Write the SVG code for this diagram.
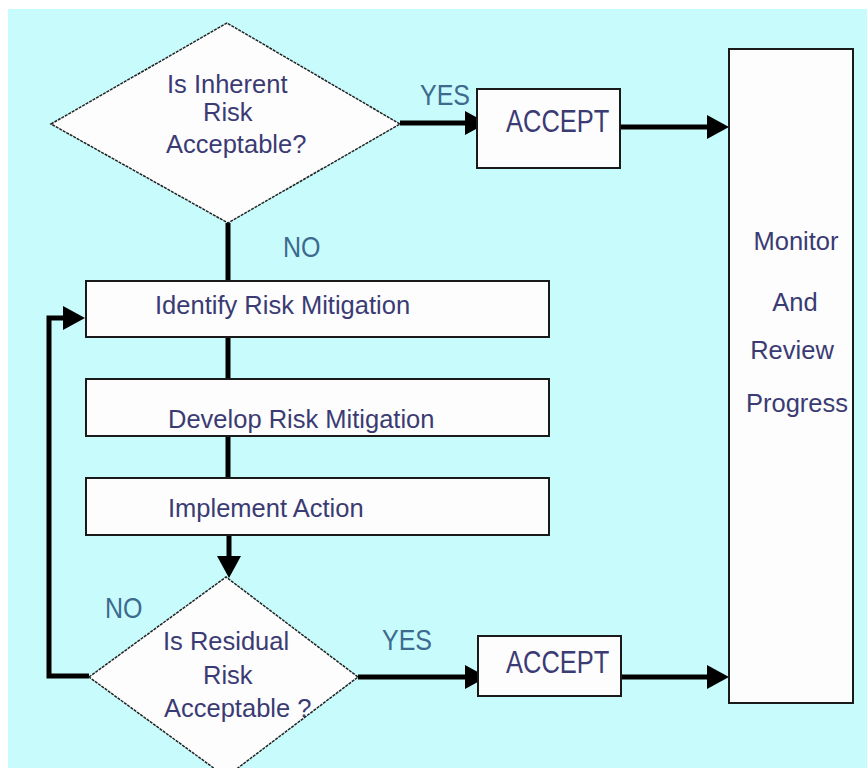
<svg xmlns="http://www.w3.org/2000/svg" width="867" height="768" viewBox="0 0 867 768">
  <style>
    .shape { fill: #fdfdfd; stroke: #1a1a1a; stroke-width: 2; }
    .decision { fill: #fdfdfd; stroke: #222; stroke-width: 1.5; stroke-dasharray: 3 1; }
    .label { font-family: "Liberation Sans", Arial, sans-serif; font-size: 25.5px; fill: #3b3b74; }
    .branch { font-family: "Liberation Sans", Arial, sans-serif; font-size: 25px; fill: #3d6a8e; }
    .wire { fill: none; stroke: #000; stroke-width: 5; stroke-linejoin: miter; }
  </style>
  <defs>
    <marker id="head" markerUnits="userSpaceOnUse" markerWidth="22" markerHeight="24" refX="7" refY="12" orient="auto">
      <path d="M0,0 L22,12 L0,24 Z" fill="#000"/>
    </marker>
  </defs>

  <!-- page -->
  <rect x="0" y="0" width="867" height="768" fill="#ffffff"/>
  <rect x="8" y="9" width="859" height="759" fill="#c8fcfc"/>

  <!-- connectors -->
  <g id="connectors">
    <path class="wire" d="M228,223 V281" />
    <path class="wire" d="M228,337 V379" />
    <path class="wire" d="M228,436 V478" />
    <path class="wire" d="M400,123 H472" stroke-width="4" marker-end="url(#head)" />
    <path class="wire" d="M620,127 H714" stroke-width="7" marker-end="url(#head)" />
    <path class="wire" d="M229,535 V563" marker-end="url(#head)" />
    <path class="wire" d="M89,676 H49 V318 H70" marker-end="url(#head)" />
    <path class="wire" d="M358,677 H472" marker-end="url(#head)" />
    <path class="wire" d="M621,677 H714" marker-end="url(#head)" />
  </g>

  <!-- branch labels -->
  <g id="labels">
    <text class="branch" transform="translate(420,105) scale(1,1.18)">YES</text>
    <text class="branch" transform="translate(283,257) scale(1,1.15)">NO</text>
    <text class="branch" transform="translate(105,618) scale(1,1.15)">NO</text>
    <text class="branch" transform="translate(382,650) scale(1,1.18)">YES</text>
  </g>

  <g id="inherent-decision">
    <polygon class="decision" points="51,124 227,23 400,124 228,223"/>
    <text class="label" x="167" y="93">Is Inherent</text>
    <text class="label" x="203" y="121">Risk</text>
    <text class="label" x="166" y="153">Acceptable?</text>
  </g>

  <g id="accept-inherent">
    <rect class="shape" x="477" y="89" width="143" height="79"/>
    <text class="label" transform="translate(506,132) scale(1,1.2)">ACCEPT</text>
  </g>

  <g id="monitor">
    <rect class="shape" x="729" y="49" width="124" height="654"/>
    <text class="label" x="796" y="250" text-anchor="middle">Monitor</text>
    <text class="label" x="795" y="311" text-anchor="middle">And</text>
    <text class="label" x="792" y="359" text-anchor="middle">Review</text>
    <text class="label" x="797" y="412" text-anchor="middle">Progress</text>
  </g>

  <g id="identify">
    <rect class="shape" x="86" y="281" width="463" height="56"/>
    <text class="label" x="155" y="314">Identify Risk Mitigation</text>
  </g>

  <g id="develop">
    <rect class="shape" x="86" y="379" width="463" height="57"/>
    <text class="label" x="168" y="428">Develop Risk Mitigation</text>
  </g>

  <g id="implement">
    <rect class="shape" x="86" y="478" width="463" height="57"/>
    <text class="label" x="168" y="517">Implement Action</text>
  </g>

  <g id="residual-decision">
    <polygon class="decision" points="89,677 226,577 358,677 226,777"/>
    <text class="label" x="163" y="650">Is Residual</text>
    <text class="label" x="203" y="684">Risk</text>
    <text class="label" x="164" y="717">Acceptable ?</text>
  </g>

  <g id="accept-residual">
    <rect class="shape" x="478" y="636" width="143" height="60"/>
    <text class="label" transform="translate(506,673) scale(1,1.2)">ACCEPT</text>
  </g>
</svg>
